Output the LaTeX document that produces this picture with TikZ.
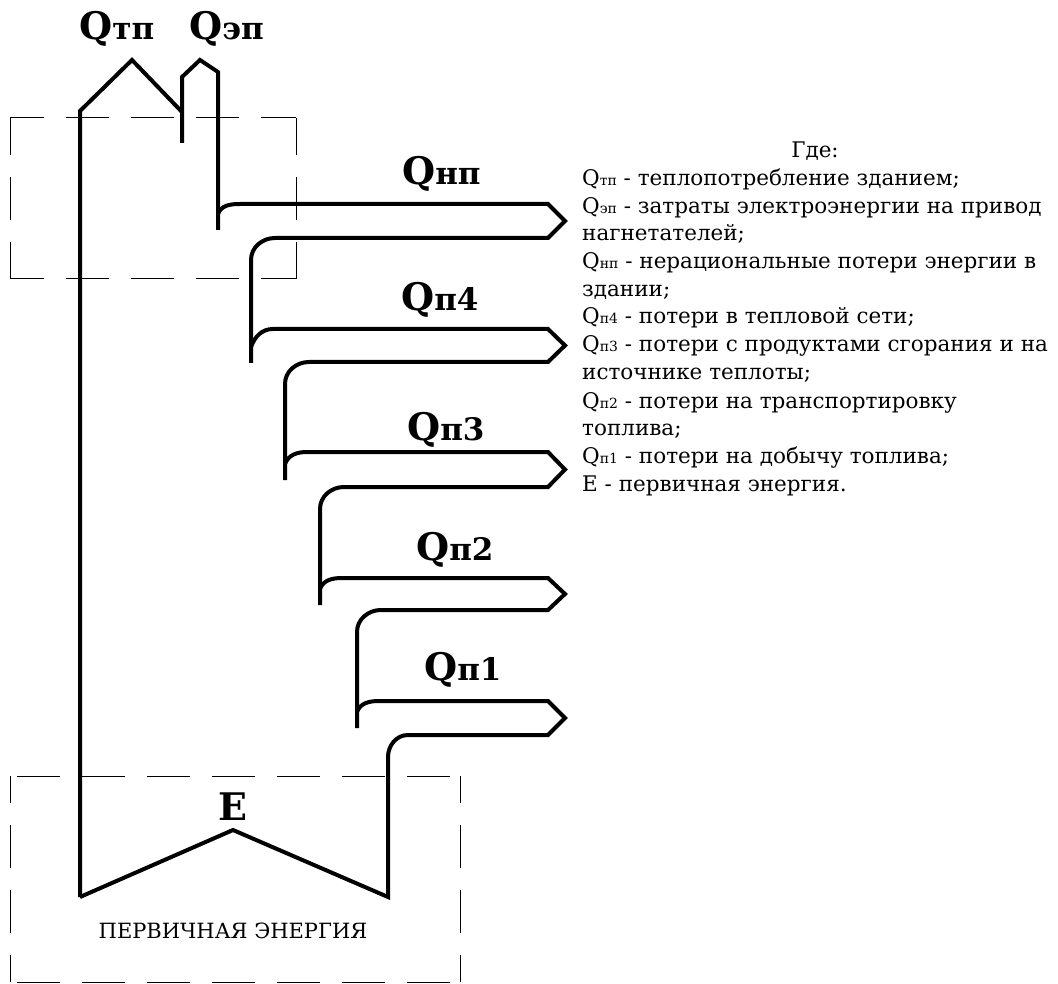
\documentclass[tikz,border=0pt]{standalone}
\usepackage{fontspec}
\setmainfont{DejaVu Serif}

\newcommand{\qlab}[1]{{\fontsize{38}{38}\selectfont\bfseries Q}{\fontsize{31}{31}\selectfont\bfseries #1}}
\newcommand{\qleg}[1]{Q{\fontsize{14}{14}\selectfont #1}}

\begin{document}
\begin{tikzpicture}
	[x=1pt,y=-1pt,
	 flow/.style={line width=4pt,line join=miter},
	 zone/.style={line width=1pt,dash pattern=on 43pt off 22pt},
	 label/.style={inner sep=0pt,anchor=base west},
	 legend/.style={inner sep=0pt,anchor=base west,font=\fontsize{21.5}{21.5}\selectfont}]
    \useasboundingbox (0,0) rectangle (1058,984);

    % building zone
    \draw[zone,dash phase=9pt] (10,118) -- (296,118);
    \draw[zone,dash phase=9pt] (10,279) -- (296,279);
    \draw[zone,dash phase=6pt] (10,118) -- (10,279);
    \draw[zone,dash phase=6pt] (296,118) -- (296,279);
    % primary energy zone
    \draw[zone,dash phase=58pt] (10,776) -- (460,776);
    \draw[zone,dash phase=58pt] (10,982) -- (460,982);
    \draw[zone,dash phase=16pt] (10,776) -- (10,982);
    \draw[zone,dash phase=16pt] (460,776) -- (460,982);

    % flows
    \draw[flow] (80,897) -- (80,111) -- (132,60) -- (182,112);
    \draw[flow] (182,143) -- (182,77) -- (200,60) -- (218,72) -- (218,230);
    \draw[flow] (218,214) to[out=70,in=180] (240,204) -- (548,204) -- (565,221) -- (548,238)
        -- (275,238) to[out=180,in=90] (251,260) -- (251,363);
    \draw[flow] (251,347) to[out=70,in=180] (273,329) -- (548,329) -- (565,345.5) -- (548,362)
        -- (309,362) to[out=180,in=90] (285,384) -- (285,480);
    \draw[flow] (285,464) to[out=70,in=180] (307,452) -- (548,452) -- (565,469.5) -- (548,487)
        -- (344,487) to[out=180,in=90] (320,509) -- (320,605);
    \draw[flow] (320,589) to[out=70,in=180] (342,578) -- (548,578) -- (565,594) -- (548,610)
        -- (381,610) to[out=180,in=90] (357,632) -- (357,728);
    \draw[flow] (357,712) to[out=70,in=180] (379,701) -- (548,701) -- (565,718) -- (548,735)
        -- (408,735) to[out=180,in=90] (388,757) -- (388,897) -- (233,830) -- (80,897);

    % flow labels
    \node[label] (qtp) at (79,40) {\qlab{тп}};
    \node[label] (qep) at (189,40) {\qlab{эп}};
    \node[label] (qnp) at (402,185) {\qlab{нп}};
    \node[label] (qp4) at (401,311) {\qlab{п4}};
    \node[label] (qp3) at (407,440) {\qlab{п3}};
    \node[label] (qp2) at (416,560) {\qlab{п2}};
    \node[label] (qp1) at (424,680) {\qlab{п1}};
    \node[inner sep=0pt,anchor=base,font=\fontsize{38}{38}\selectfont\bfseries] (e) at (233,820) {E};
    \node[inner sep=0pt,anchor=base,font=\fontsize{21}{21}\selectfont] (pe) at (233,938) {ПЕРВИЧНАЯ ЭНЕРГИЯ};

    % legend
    \node[legend,anchor=base] (gde) at (815,158) {Где:};
    \node[legend] (l1) at (582,186) {\qleg{тп} - теплопотребление зданием;};
    \node[legend] (l2) at (582,213.5) {\qleg{эп} - затраты электроэнергии на привод};
    \node[legend] (l3) at (582,241) {нагнетателей;};
    \node[legend] (l4) at (582,269) {\qleg{нп} - нерациональные потери энергии в};
    \node[legend] (l5) at (582,297) {здании;};
    \node[legend] (l6) at (582,324) {\qleg{п4} - потери в тепловой сети;};
    \node[legend] (l7) at (582,352) {\qleg{п3} - потери с продуктами сгорания и на};
    \node[legend] (l8) at (582,380) {источнике теплоты;};
    \node[legend] (l9) at (582,408) {\qleg{п2} - потери на транспортировку};
    \node[legend] (l10) at (582,435) {топлива;};
    \node[legend] (l11) at (582,463) {\qleg{п1} - потери на добычу топлива;};
    \node[legend] (l12) at (582,491) {E - первичная энергия.};

\end{tikzpicture}
\end{document}
